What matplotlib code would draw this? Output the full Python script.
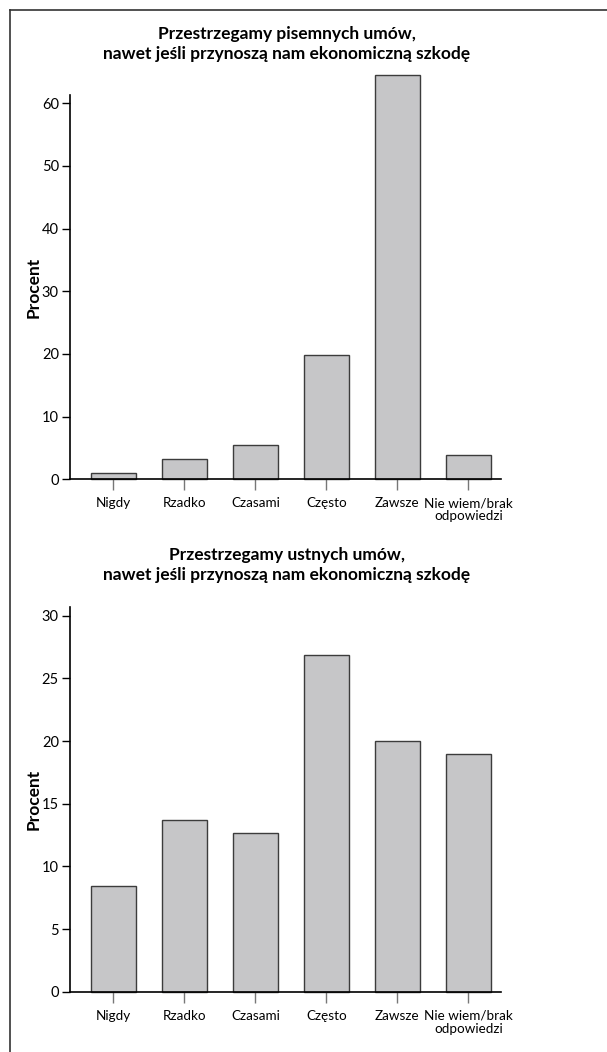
import numpy as np
import matplotlib.pyplot as plt
from matplotlib.lines import Line2D

plt.rcParams['font.family'] = ['Lato', 'DejaVu Sans']

categories = ["Nigdy", "Rzadko", "Czasami", "Często", "Zawsze", "Nie wiem/brak\nodpowiedzi"]
written = [1.0, 3.3, 5.5, 19.8, 64.5, 3.8]
oral = [8.4, 13.7, 12.7, 26.9, 20.0, 19.0]

title_written = "Przestrzegamy pisemnych umów,\nnawet jeśli przynoszą nam ekonomiczną szkodę"
title_oral = "Przestrzegamy ustnych umów,\nnawet jeśli przynoszą nam ekonomiczną szkodę"

W, H = 607, 1052
fig = plt.figure(figsize=(W / 100, H / 100), dpi=100)


def px_axes(left, top, right, bottom):
    return fig.add_axes([left / W, 1 - bottom / H, (right - left) / W, (bottom - top) / H])


def draw(ax, values, ymax, yticks):
    x = np.arange(len(categories))
    bars = ax.bar(x, values, width=0.63, color="#c6c6c8", edgecolor="#3c3c3c", linewidth=1.0, zorder=2)
    for b in bars:
        b.set_clip_on(False)
    ax.set_xlim(-0.61, 5.46)
    ax.set_ylim(0, ymax)
    ax.set_yticks(yticks)
    ax.set_xticks(x)
    ax.set_xticklabels(categories, fontsize=9.7, linespacing=1.1)
    ax.tick_params(axis="x", length=8, width=1, color="#777777", pad=5)
    ax.tick_params(axis="y", length=6, width=1, labelsize=10.5, pad=2)
    for s in ["top", "right"]:
        ax.spines[s].set_visible(False)
    ax.spines["left"].set_linewidth(1.2)
    ax.spines["bottom"].set_linewidth(1.2)
    ax.set_ylabel("Procent", fontsize=12.5, fontweight="bold", labelpad=0)


ax1 = px_axes(70, 95, 501, 479.3)
draw(ax1, written, 61.3, range(0, 61, 10))
fig.text(287 / W, 1 - 44 / H, title_written, ha="center", va="center",
         fontsize=12.5, fontweight="bold", linespacing=1.25)

ax2 = px_axes(70, 607, 501, 991.7)
draw(ax2, oral, 30.7, range(0, 31, 5))
fig.text(287 / W, 1 - 565 / H, title_oral, ha="center", va="center",
         fontsize=12.5, fontweight="bold", linespacing=1.25)

# outer frame (left and top edges)
fig.add_artist(Line2D([10 / W, 10 / W], [0, 1 - 10 / H], color="#333333", linewidth=1.2))
fig.add_artist(Line2D([10 / W, 1], [1 - 10 / H, 1 - 10 / H], color="#333333", linewidth=1.2))

fig.savefig("out.png", dpi=100)
